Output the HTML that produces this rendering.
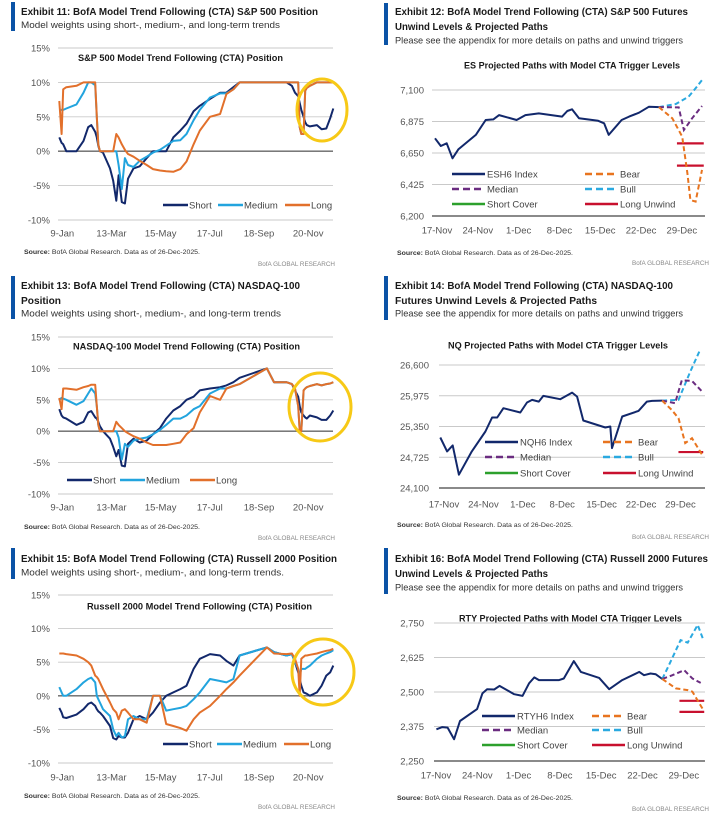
<!DOCTYPE html>
<html><head><meta charset="utf-8"><style>
html,body{margin:0;padding:0;background:#fff;}
svg{display:block;font-family:"Liberation Sans",sans-serif;}
</style></head><body>
<svg id="chart" width="725" height="826" viewBox="0 0 725 826" xmlns="http://www.w3.org/2000/svg">
<rect width="725" height="826" fill="#fff"/>
<!-- Panel 1 header -->
<g fill="#1a1a1a">
<rect x="11" y="2" width="4" height="29" fill="#0b53a6"/>
<text x="21" y="15" font-weight="bold" font-size="10.5" textLength="297" lengthAdjust="spacingAndGlyphs">Exhibit 11: BofA Model Trend Following (CTA) S&amp;P 500 Position</text>
<text x="21" y="28" font-size="9.5" fill="#333" textLength="259" lengthAdjust="spacingAndGlyphs">Model weights using short-, medium-, and long-term trends</text>
<text x="78" y="61" font-weight="bold" font-size="9" textLength="205" lengthAdjust="spacingAndGlyphs">S&amp;P 500 Model Trend Following (CTA) Position</text>
<text x="24" y="254" font-size="6" fill="#333" textLength="176" lengthAdjust="spacingAndGlyphs"><tspan font-weight="bold">Source:</tspan> BofA Global Research.  Data as of 26-Dec-2025.</text>
<text x="335" y="266" font-size="6.5" fill="#888" text-anchor="end" textLength="77" lengthAdjust="spacingAndGlyphs">BofA GLOBAL RESEARCH</text>
</g>
<!-- Panel 2 header -->
<g fill="#1a1a1a">
<rect x="384" y="3" width="4" height="42" fill="#0b53a6"/>
<text x="395" y="15" font-weight="bold" font-size="10.5" textLength="293" lengthAdjust="spacingAndGlyphs">Exhibit 12: BofA Model Trend Following (CTA) S&amp;P 500 Futures</text>
<text x="395" y="30" font-weight="bold" font-size="10.5" textLength="153" lengthAdjust="spacingAndGlyphs">Unwind Levels &amp; Projected Paths</text>
<text x="395" y="43.5" font-size="9.5" fill="#333" textLength="288" lengthAdjust="spacingAndGlyphs">Please see the appendix for more details on paths and unwind triggers</text>
<text x="464" y="68.5" font-weight="bold" font-size="9" textLength="216" lengthAdjust="spacingAndGlyphs">ES Projected Paths with Model CTA Trigger Levels</text>
<text x="397" y="255" font-size="6" fill="#333" textLength="176" lengthAdjust="spacingAndGlyphs"><tspan font-weight="bold">Source:</tspan> BofA Global Research.  Data as of 26-Dec-2025.</text>
<text x="709" y="265" font-size="6.5" fill="#888" text-anchor="end" textLength="77" lengthAdjust="spacingAndGlyphs">BofA GLOBAL RESEARCH</text>
</g>
<!-- Panel 3 header -->
<g fill="#1a1a1a">
<rect x="11" y="276" width="4" height="43" fill="#0b53a6"/>
<text x="21" y="289" font-weight="bold" font-size="10.5" textLength="279" lengthAdjust="spacingAndGlyphs">Exhibit 13: BofA Model Trend Following (CTA) NASDAQ-100</text>
<text x="21" y="304" font-weight="bold" font-size="10.5" textLength="40" lengthAdjust="spacingAndGlyphs">Position</text>
<text x="21" y="316.5" font-size="9.5" fill="#333" textLength="260" lengthAdjust="spacingAndGlyphs">Model weights using short-, medium-, and long-term trends</text>
<text x="73" y="349.5" font-weight="bold" font-size="9" textLength="227" lengthAdjust="spacingAndGlyphs">NASDAQ-100 Model Trend Following (CTA) Position</text>
<text x="24" y="529" font-size="6" fill="#333" textLength="176" lengthAdjust="spacingAndGlyphs"><tspan font-weight="bold">Source:</tspan> BofA Global Research.  Data as of 26-Dec-2025.</text>
<text x="335" y="540" font-size="6.5" fill="#888" text-anchor="end" textLength="77" lengthAdjust="spacingAndGlyphs">BofA GLOBAL RESEARCH</text>
</g>
<!-- Panel 4 header -->
<g fill="#1a1a1a">
<rect x="384" y="276" width="4" height="44" fill="#0b53a6"/>
<text x="395" y="289" font-weight="bold" font-size="10.5" textLength="278" lengthAdjust="spacingAndGlyphs">Exhibit 14: BofA Model Trend Following (CTA) NASDAQ-100</text>
<text x="395" y="304" font-weight="bold" font-size="10.5" textLength="202" lengthAdjust="spacingAndGlyphs">Futures Unwind Levels &amp; Projected Paths</text>
<text x="395" y="316.5" font-size="9.5" fill="#333" textLength="288" lengthAdjust="spacingAndGlyphs">Please see the appendix for more details on paths and unwind triggers</text>
<text x="448" y="348.5" font-weight="bold" font-size="9" textLength="220" lengthAdjust="spacingAndGlyphs">NQ Projected Paths with Model CTA Trigger Levels</text>
<text x="397" y="527" font-size="6" fill="#333" textLength="176" lengthAdjust="spacingAndGlyphs"><tspan font-weight="bold">Source:</tspan> BofA Global Research.  Data as of 26-Dec-2025.</text>
<text x="709" y="539" font-size="6.5" fill="#888" text-anchor="end" textLength="77" lengthAdjust="spacingAndGlyphs">BofA GLOBAL RESEARCH</text>
</g>
<!-- Panel 5 header -->
<g fill="#1a1a1a">
<rect x="11" y="548" width="4" height="31" fill="#0b53a6"/>
<text x="21" y="562" font-weight="bold" font-size="10.5" textLength="316" lengthAdjust="spacingAndGlyphs">Exhibit 15: BofA Model Trend Following (CTA) Russell 2000 Position</text>
<text x="21" y="575.5" font-size="9.5" fill="#333" textLength="263" lengthAdjust="spacingAndGlyphs">Model weights using short-, medium-, and long-term trends.</text>
<text x="87" y="609.5" font-weight="bold" font-size="9" textLength="225" lengthAdjust="spacingAndGlyphs">Russell 2000 Model Trend Following (CTA) Position</text>
<text x="24" y="798" font-size="6" fill="#333" textLength="176" lengthAdjust="spacingAndGlyphs"><tspan font-weight="bold">Source:</tspan> BofA Global Research.  Data as of 26-Dec-2025.</text>
<text x="335" y="809" font-size="6.5" fill="#888" text-anchor="end" textLength="77" lengthAdjust="spacingAndGlyphs">BofA GLOBAL RESEARCH</text>
</g>
<!-- Panel 6 header -->
<g fill="#1a1a1a">
<rect x="384" y="548" width="4" height="46" fill="#0b53a6"/>
<text x="395" y="562" font-weight="bold" font-size="10.5" textLength="313" lengthAdjust="spacingAndGlyphs">Exhibit 16: BofA Model Trend Following (CTA) Russell 2000 Futures</text>
<text x="395" y="577" font-weight="bold" font-size="10.5" textLength="153" lengthAdjust="spacingAndGlyphs">Unwind Levels &amp; Projected Paths</text>
<text x="395" y="590.5" font-size="9.5" fill="#333" textLength="288" lengthAdjust="spacingAndGlyphs">Please see the appendix for more details on paths and unwind triggers</text>
<text x="459" y="621.5" font-weight="bold" font-size="9" textLength="223" lengthAdjust="spacingAndGlyphs">RTY Projected Paths with Model CTA Trigger Levels</text>
<text x="397" y="800" font-size="6" fill="#333" textLength="176" lengthAdjust="spacingAndGlyphs"><tspan font-weight="bold">Source:</tspan> BofA Global Research.  Data as of 26-Dec-2025.</text>
<text x="709" y="811" font-size="6.5" fill="#888" text-anchor="end" textLength="77" lengthAdjust="spacingAndGlyphs">BofA GLOBAL RESEARCH</text>
</g>
</svg>
<script>
// ===== Left charts data (days since 9-Jan, position %) =====
const posDays = [0,3,5,9,22,31,37,41,46,48,50,52,56,65,69,73,76,80,84,88,95,103,112,120,129,137,146,155,163,172,180,193,206,214,223,231,266,275,291,298,302,306,308,310,313,315,317,321,330,336,342,347,351];
const posTickLabels = ['9-Jan','13-Mar','15-May','17-Jul','18-Sep','20-Nov'];
const posTickDays = [0,63,126,189,252,315];
const pctTicks = [15,10,5,0,-5,-10];

const spxShort = [2,1.2,1,0,0, 1.5,3.5,3.8,2.8,2, 0.8,0,-0.2,-2.5,-4.3, -7.2,-3.5,-7.4,-7.6,-4, -2.5,-2.2,-1,0,0, 0,2,3,4,5.8, 6.6,7.6,8.5,8.5,9.3, 10,10,10,10,9.5, 8.5,8,7,6,5, 4.2,3.8,3.6,3.8,3.2, 3.3,4.8,6.2];
const spxMedium = [6,6,6,6.2,6.8, 8.5,10,10,9.6,5, 1,0,0,0,0, 0,-2,-5.5,-1,-2, -2.3,-1.4,-0.8,-0.2,0.2, 0.8,1.5,1.6,2.5,4.5, 6,7.8,8.4,8.4,9, 10,10,10,10,10, 10,10,3.5,2.5,2.5, 8.8,9.2,9.5,10,10, 10,10,10];
const spxLong = [7.3,2.5,9,9.3,9.5, 10,10,10,10,5, 1,0,0,0,0, 2.5,2,1,0.2,-0.4, -0.8,-1.4,-2,-2.6,-2.8, -2.9,-3,-2.6,-1.5,1, 3,5,5.4,8.3,9, 10,10,10,10,10, 10,10,3.5,2.5,2.5, 8.8,9.2,9.5,10,10, 10,10,10];

const ndxShort = [3.5,2.5,2.2,2,1, 1.5,3,3.2,2.2,2, 1.5,0.8,0,-1.2,-2.5, -4,-3,-5.5,-5.6,-2, -1.2,-1.8,-1.5,-0.5,0.5, 2,3.3,4,5,5.5, 6.5,6.8,7,7.3,7.8, 8.5,10,7.8,7.8,7.5, 6.5,5.5,4,3,2.5, 2.2,2,2.5,2.2,1.8, 1.8,2.5,3.3];
const ndxMedium = [5,5.3,5.2,5,4.2, 4.8,6,6.8,6,4, 1,0,0,0,0, 0,-1,-4.5,-2,-2.5, -1.5,-1.2,-1,-0.5,0.2, 1,2,2,2.5,3.5, 4,6,6.8,6.8,7.2, 7.5,10,7.8,7.8,7.5, 6.8,4,0,0,6.5, 6.8,7,7.2,7.5,7.3, 7.5,7.6,7.8];
const ndxLong = [5.3,3.5,6.8,6.8,6.6, 7,7.2,7.4,7.4,4, 1,0,0,0,0, 1.5,1,0.5,0,-0.3, -0.8,-1.2,-1.8,-2.2,-2.2, -2.2,-2,-1.8,-0.5,0.5, 3,5.6,5,6.8,7.2, 7.5,10,7.8,7.8,7.5, 6.8,4,0,0,6.5, 6.8,7,7.2,7.5,7.3, 7.5,7.6,7.8];

const rutShort = [-1.8,-2.5,-3.2,-3.3,-2.8, -2,-1.2,-1,-1.5,-2, -2.3,-2.5,-3,-4.5,-6.3, -6.5,-6,-6.2,-6.2,-5.5, -3.5,-3,-3.5,-2.5,-1, 0,0.5,1,1.5,4, 5.5,6.2,6,5.2,4.5, 6,7.2,6.5,6,6.2, 5,3.5,2.5,1.5,0.5, 0.4,0.3,0,0.5,1.5, 3,3.5,4.5];
const rutMedium = [1.3,0.5,0,0,1, 2,2.5,2.7,2,0, -0.5,-1,-2,-3,-5, -6,-5.5,-6.2,-6,-3.5, -3,-3.5,-3.5,0,0, -2.2,-2,-1.8,-1.5,-0.5, 0.5,2.5,2.2,2,2.5, 6,7.2,6.5,6,6.2, 5,4,3,4,4, 4,4.2,4.5,5.5,6, 6.3,6.5,6.8];
const rutLong = [6.3,6.3,6.3,6.2,6, 5.5,5,4.5,3,2.8, 2.5,2,1,-1,-2, -2.5,-3.5,-2.2,-2,-2.5, -3.5,-3.5,-4,0,0, -4.2,-4.5,-4.8,-5.2,-3.5, -2.5,-1.5,0,1,2, 3,7.2,6.3,6.2,6.3, 5.5,4,0,5.5,5.8, 6,6,6.1,6.3,6.5, 6.7,6.8,7];

// ===== Right charts data (days since 17-Nov, index level) =====
const pathTickLabels = ['17-Nov','24-Nov','1-Dec','8-Dec','15-Dec','22-Dec','29-Dec'];
const pathTickDays = [0,7,14,21,28,35,42];

const esTicks = [7100,6875,6650,6425,6200];
const esDays = [0,1,2,3,4,7,8.7,10,11,14,15.5,17.8,21.8,22.7,23.5,24.7,28,29,29.8,32,33.3,35,36.7,38.4];
const esIndex = [6755,6700,6719,6612,6676,6779,6886,6890,6921,6886,6921,6933,6910,6950,6962,6898,6880,6862,6779,6886,6910,6938,6981,6978];
const esBullDays = [38.4,41.3,43.5,44.7,45.8];
const esBull = [6978,7000,7052,7112,7171];
const esMedianDays = [38.4,41.8,42.7,44.1,45.8];
const esMedian = [6978,6976,6814,6898,6986];
const esBearDays = [38.4,40.7,42.4,43.3,43.8,44.7,45.8];
const esBear = [6978,6898,6767,6505,6314,6303,6529];
const esUnwindDays = [41.5,46.1];
const esUnwind = [6719,6560];

const nqTicks = [26600,25975,25350,24725,24100];
const nqDays = [-0.3,0.9,1.9,3,5.3,7.7,8.9,9.8,10.9,13.9,15.1,16,17.2,18,21,23.1,24,25.1,29,29.9,30.2,32,34.9,36.4,37.3,39.1];
const nqIndex = [25127,24843,24965,24370,24843,25249,25532,25532,25722,25634,25837,25891,25857,25972,25904,26039,25958,25472,25330,25350,24911,25553,25668,25857,25870,25877];
const nqBullDays = [39.1,42,44.1,45.9];
const nqBull = [25877,25891,26465,26924];
const nqMedianDays = [39.1,41.4,42.6,44.4,46.2];
const nqMedian = [25877,25823,26289,26276,26060];
const nqBearDays = [39.1,40.8,42,43.2,44.4,46.2];
const nqBear = [25877,25688,25519,25012,25113,24776];
const nqUnwindDays = [42,46.4];
const nqUnwind = [24830];

const rtyTicks = [2750,2625,2500,2375,2250];
const rtyDays = [0.4,1.4,2.3,3.4,4.4,7.3,8.2,9,10.2,11.1,13.6,15,16.1,17,17.8,21.2,22,23.7,24.9,28,29.7,31.9,34.8,35.6,36.7,37.6,38.7];
const rtyIndex = [2365,2373,2371,2329,2395,2438,2495,2510,2509,2522,2492,2486,2531,2553,2543,2543,2549,2612,2573,2551,2510,2543,2573,2561,2567,2564,2547];
const rtyBullDays = [38.7,40.1,41.8,43,44.7,45.6];
const rtyBull = [2547,2610,2688,2679,2743,2692];
const rtyMedianDays = [38.7,40.4,42.4,43.8,45.2];
const rtyMedian = [2547,2561,2579,2549,2533];
const rtyBearDays = [38.7,41,43,43.8,45,45.5];
const rtyBear = [2547,2513,2507,2501,2458,2440];
const rtyUnwindDays = [41.6,45.8];
const rtyUnwind = [2468,2428];

// ===== rendering =====
const NS='http://www.w3.org/2000/svg';
const root=document.getElementById('chart');
function mk(tag,attrs,parent){const e=document.createElementNS(NS,tag);for(const k in attrs)e.setAttribute(k,attrs[k]);(parent||root).appendChild(e);return e;}
function lin(d0,d1,r0,r1){return v=>r0+(v-d0)*(r1-r0)/(d1-d0);}
function pathD(xs,ys,xf,yf){return xs.map((d,i)=>(i?'L':'M')+xf(d).toFixed(1)+','+yf(ys[i]).toFixed(1)).join(' ');}

const C_SHORT='#12286b',C_MED='#22a4de',C_LONG='#e2702b',C_BEAR='#e8741f',C_MEDIAN='#6a2c80',C_BULL='#2aa9e0',C_COVER='#2ca02c',C_UNWIND='#c8102e';

function drawPosition(name,L,sh,me,lo){
  const g=mk('g',{});
  
  
  const x=lin(0,351,L.x0,L.x1), y=lin(15,-10,L.yTop,L.yBot);
  pctTicks.forEach(t=>{
    const ln=mk('line',{x1:L.gx0,x2:L.gx1,y1:y(t),y2:y(t),stroke:t===0?'#666':'#c9c9c9','stroke-width':t===0?1.3:0.9},g);
    
    
    const tx=mk('text',{x:L.ylx,y:y(t)+3.5,'font-size':9.5,fill:'#555','text-anchor':'end'},g);
    tx.textContent=t+'%';
    
    
  });
  posTickDays.forEach((d,i)=>{
    const tx=mk('text',{x:x(d)+3,y:L.xly,'font-size':9.5,fill:'#555','text-anchor':'middle'},g);
    tx.textContent=posTickLabels[i];
    
    
  });
  [[sh,C_SHORT,'short'],[me,C_MED,'medium'],[lo,C_LONG,'long']].forEach(s=>{
    const p=mk('path',{d:pathD(posDays,s[0],x,y),fill:'none',stroke:s[1],'stroke-width':2,'stroke-linejoin':'round'},g);
    
    
  });
  const items=[['Short',C_SHORT],['Medium',C_MED],['Long',C_LONG]];
  items.forEach((it,i)=>{
    const lx=L.leg[i];
    const ln=mk('line',{x1:lx,x2:lx+25,y1:L.legY,y2:L.legY,stroke:it[1],'stroke-width':2.5},g);
    
    
    const tx=mk('text',{x:lx+26,y:L.legY+3.5,'font-size':9.5,fill:'#444'},g);
    tx.textContent=it[0];
    
    
  });
  const el=mk('ellipse',{cx:L.ell[0],cy:L.ell[1],rx:L.ell[2],ry:L.ell[3],fill:'none',stroke:'#f7c916','stroke-width':3},g);
  
  
}

function drawPaths(name,R,ticks,days,idx,bd,bv,md,mv,rd,rv,ud,uv,idxLabel){
  const g=mk('g',{});
  
  
  const x=v=>R.x0+v*R.ppd, y=lin(ticks[0],ticks[ticks.length-1],R.yTop,R.yBot);
  ticks.forEach((t,i)=>{
    const last=i===ticks.length-1;
    const ln=mk('line',{x1:R.gx0,x2:705,y1:y(t),y2:y(t),stroke:last?'#444':'#c9c9c9','stroke-width':last?1.2:0.9},g);
    
    
    const tx=mk('text',{x:R.ylx,y:y(t)+3.5,'font-size':9.5,fill:'#555','text-anchor':'end'},g);
    tx.textContent=t.toLocaleString('en-US');
    
    
  });
  pathTickDays.forEach((d,i)=>{
    const tx=mk('text',{x:x(d)+2,y:R.xly,'font-size':9.5,fill:'#555','text-anchor':'middle'},g);
    tx.textContent=pathTickLabels[i];
    
    
  });
  // unwind levels
  uv.forEach(v=>{
    const ln=mk('line',{x1:x(ud[0]),x2:x(ud[1]),y1:y(v),y2:y(v),stroke:C_UNWIND,'stroke-width':2.2},g);
    
    
  });
  const p1=mk('path',{d:pathD(idx.length?days:[],idx,x,y),fill:'none',stroke:C_SHORT,'stroke-width':2,'stroke-linejoin':'round'},g);
  
  
  const p2=mk('path',{d:pathD(bd,bv,x,y),fill:'none',stroke:C_BULL,'stroke-width':2,'stroke-dasharray':'5,3'},g);
  
  
  const p3=mk('path',{d:pathD(md,mv,x,y),fill:'none',stroke:C_MEDIAN,'stroke-width':2,'stroke-dasharray':'5,3'},g);
  
  
  const p4=mk('path',{d:pathD(rd,rv,x,y),fill:'none',stroke:C_BEAR,'stroke-width':2,'stroke-dasharray':'5,3'},g);
  
  
  const items=[[idxLabel,C_SHORT,false,0,0],['Bear',C_BEAR,true,1,0],['Median',C_MEDIAN,true,0,1],['Bull',C_BULL,true,1,1],['Short Cover',C_COVER,false,0,2],['Long Unwind',C_UNWIND,false,1,2]];
  items.forEach(it=>{
    const lx=it[3]?R.legR:R.legL, ly=R.legY[it[4]];
    const ln=mk('line',{x1:lx,x2:lx+33,y1:ly,y2:ly,stroke:it[1],'stroke-width':2.5},g);
    if(it[2]) ln.setAttribute('stroke-dasharray','7,4');
    
    
    const tx=mk('text',{x:lx+35,y:ly+3.5,'font-size':9.5,fill:'#444'},g);
    tx.textContent=it[0];
    
    
  });
}

drawPosition('spx-position',{x0:59.3,x1:333.3,yTop:48,yBot:220,gx0:58,gx1:333,ylx:50,xly:236.5,legY:205,leg:[163,218,285],ell:[322,110,25,31]},spxShort,spxMedium,spxLong);
drawPosition('ndx-position',{x0:59.3,x1:333.3,yTop:337,yBot:494,gx0:58,gx1:333,ylx:50,xly:510.5,legY:480,leg:[67,120,190],ell:[320,407,31,34]},ndxShort,ndxMedium,ndxLong);
drawPosition('rut-position',{x0:59.3,x1:333.3,yTop:595,yBot:763,gx0:58,gx1:333,ylx:50,xly:780.5,legY:744,leg:[163,217,284],ell:[323,672,31,33]},rutShort,rutMedium,rutLong);

drawPaths('es-paths',{x0:435,ppd:5.83,yTop:90,yBot:216,gx0:432,ylx:424,xly:233.5,legL:452,legR:585,legY:[174,189,204]},esTicks,esDays,esIndex,esBullDays,esBull,esMedianDays,esMedian,esBearDays,esBear,esUnwindDays,esUnwind,'ESH6 Index');
drawPaths('nq-paths',{x0:442,ppd:5.63,yTop:365,yBot:488,gx0:439,ylx:429,xly:507.5,legL:485,legR:603,legY:[442,457,473]},nqTicks,nqDays,nqIndex,nqBullDays,nqBull,nqMedianDays,nqMedian,nqBearDays,nqBear,nqUnwindDays,nqUnwind,'NQH6 Index');
drawPaths('rty-paths',{x0:434,ppd:5.9,yTop:623,yBot:761,gx0:434,ylx:424,xly:778.5,legL:482,legR:592,legY:[716,730,745]},rtyTicks,rtyDays,rtyIndex,rtyBullDays,rtyBull,rtyMedianDays,rtyMedian,rtyBearDays,rtyBear,rtyUnwindDays,rtyUnwind,'RTYH6 Index');
</script>
</body></html>
